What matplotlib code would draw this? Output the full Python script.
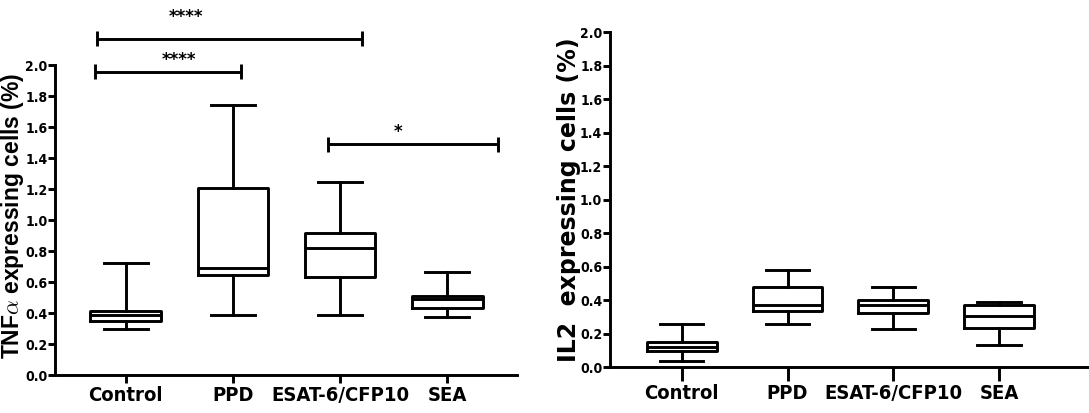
import matplotlib
matplotlib.use("Agg")
import matplotlib.pyplot as plt

groups = ["Control", "PPD", "ESAT-6/CFP10", "SEA"]

# TNF-alpha: whisker low, Q1, median, Q3, whisker high (%)
tnf_low = [0.295, 0.387, 0.387, 0.376]
tnf_q1 = [0.348, 0.643, 0.634, 0.430]
tnf_med = [0.387, 0.688, 0.817, 0.490]
tnf_q3 = [0.413, 1.204, 0.914, 0.512]
tnf_high = [0.725, 1.742, 1.243, 0.662]

# IL-2: whisker low, Q1, median, Q3, whisker high (%)
il2_low = [0.034, 0.259, 0.229, 0.130]
il2_q1 = [0.094, 0.333, 0.325, 0.233]
il2_med = [0.120, 0.369, 0.369, 0.303]
il2_q3 = [0.150, 0.479, 0.399, 0.369]
il2_high = [0.259, 0.578, 0.479, 0.389]

yticks = [0.0, 0.2, 0.4, 0.6, 0.8, 1.0, 1.2, 1.4, 1.6, 1.8, 2.0]

# significance brackets on the TNF panel:
# (x start, x end, bar height, label, label x, label y)
tnf_brackets = [
    (-0.29, 1.08, 1.957, "****", 0.50, 2.03),
    (-0.27, 2.20, 2.170, "****", 0.56, 2.31),
    (1.89, 3.47, 1.488, "*", 2.54, 1.57),
]

tick_font = ["DejaVu Sans"]
plt.rcParams["mathtext.fontset"] = "cm"

LW = 2.1


def make_stats(low, q1, med, q3, high):
    return [
        dict(whislo=a, q1=b, med=c, q3=d, whishi=e, fliers=[])
        for a, b, c, d, e in zip(low, q1, med, q3, high)
    ]


def style_axes(ax, xtick_len):
    ax.set_ylim(0, 2.0)
    ax.set_yticks(yticks)
    ax.set_yticklabels([f"{v:.1f}" for v in yticks], fontfamily=tick_font,
                       fontweight="bold", fontsize=10, fontstretch="condensed")
    ax.set_xticks(range(len(groups)))
    ax.set_xticklabels(groups, fontfamily=tick_font, fontweight="bold",
                       fontsize=14.5, fontstretch="condensed")
    for s in ("top", "right"):
        ax.spines[s].set_visible(False)
    for s in ("left", "bottom"):
        ax.spines[s].set_linewidth(LW)
    ax.tick_params(axis="y", direction="out", length=5, width=LW, pad=0.5)
    ax.tick_params(axis="x", direction="out", length=xtick_len, width=LW, pad=2)


def draw_boxes(ax, stats):
    line = dict(color="black", linewidth=LW)
    ax.bxp(stats, positions=range(len(stats)), widths=0.66, showfliers=False,
           boxprops=line, whiskerprops=line, capprops=line,
           medianprops=line, capwidths=0.41)


fig = plt.figure(figsize=(10.89, 4.13), dpi=100)

# left panel: TNF-alpha
ax1 = fig.add_axes([0.0505, 0.092, 0.4242, 0.7506])
draw_boxes(ax1, make_stats(tnf_low, tnf_q1, tnf_med, tnf_q3, tnf_high))
ax1.set_xlim(-0.66, 3.65)
style_axes(ax1, 6)
ax1.set_ylabel(r"TNF$\alpha$ expressing cells (%)",
               fontfamily=["Liberation Sans", "DejaVu Sans"],
               fontweight="bold", fontsize=16.5)
ax1.yaxis.set_label_coords(-0.062, 0.513)

for x0, x1, y, label, lx, ly in tnf_brackets:
    ax1.plot([x0, x1], [y, y], color="black", lw=LW, clip_on=False,
             solid_capstyle="butt")
    for xe in (x0, x1):
        ax1.plot([xe, xe], [y - 0.048, y + 0.048], color="black", lw=LW,
                 clip_on=False, solid_capstyle="butt")
    ax1.text(lx, ly, label, ha="center", va="center", fontsize=12,
             fontweight="bold", fontfamily="DejaVu Sans", clip_on=False)

# right panel: IL-2
ax2 = fig.add_axes([0.560, 0.111, 0.440, 0.8115])
draw_boxes(ax2, make_stats(il2_low, il2_q1, il2_med, il2_q3, il2_high))
ax2.set_xlim(-0.68, 3.85)
style_axes(ax2, 10)
ax2.set_ylabel("IL2  expressing cells (%)", fontfamily="DejaVu Sans",
               fontweight="bold", fontsize=17)
ax2.yaxis.set_label_coords(-0.061, 0.4985)

fig.savefig("out.png", dpi=100)
